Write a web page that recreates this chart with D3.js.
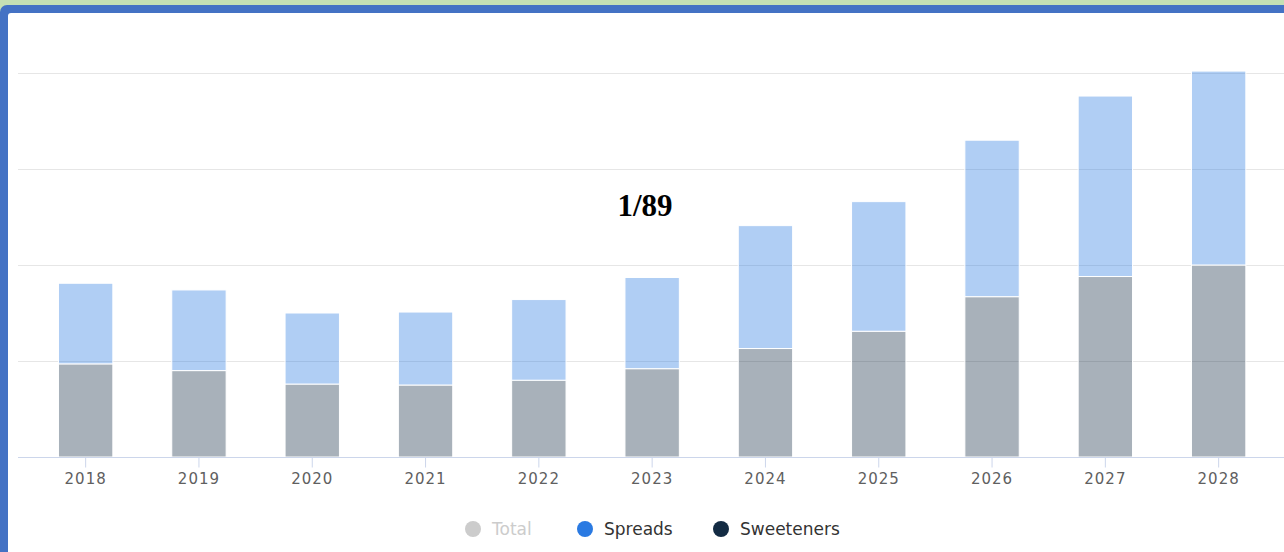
<!DOCTYPE html>
<html>
<head>
<meta charset="utf-8">
<script src="https://cdn.jsdelivr.net/npm/d3@7"></script>
<style>
  body { margin: 0; background: #fff; }
  svg { display: block; }
</style>
</head>
<body>
<svg id="chart"></svg>
<script>
// data (one grid step = 100)
var years = ["2018", "2019", "2020", "2021", "2022", "2023", "2024", "2025", "2026", "2027", "2028"];
var sweeteners = [97, 90, 76, 75, 80, 92, 113, 131, 167, 188, 200];
var spreads = [84, 84, 74, 76, 84, 95, 128, 135, 163, 188, 202];
var yTicks = [0, 100, 200, 300, 400];
var legendNames = ["Total", "Spreads", "Sweeteners"];
var legendColors = ["#cccccc", "#2a7ae2", "#132b43"];
var legendHidden = [true, false, false];

var W = 1284, H = 552;
var svg = d3.select("#chart").attr("width", W).attr("height", H);

// frame: green strip, blue border, white panel
svg.append("rect").attr("x", 0).attr("y", 0).attr("width", W).attr("height", H).attr("fill", "#c5e0b4");
svg.append("rect").attr("x", 0).attr("y", 5).attr("width", W + 20).attr("height", H + 20)
    .attr("rx", 7).attr("fill", "#4472c4");
svg.append("rect").attr("x", 8).attr("y", 13).attr("width", W).attr("height", H)
    .attr("rx", 3).attr("fill", "#ffffff");

// scales
var x = d3.scaleBand().domain(years).range([29, 1275.3]).paddingInner(0.52).paddingOuter(0.26);
var y = d3.scaleLinear().domain([0, 400]).range([457, 73]);

// grid lines
svg.append("g").selectAll("line")
    .data(yTicks.slice(1))
  .enter().append("line")
    .attr("x1", 18).attr("x2", W)
    .attr("y1", function(d) { return y(d) + 0.5; })
    .attr("y2", function(d) { return y(d) + 0.5; })
    .attr("stroke", "#e6e6e6").attr("stroke-width", 1);

// stacked bars
var rows = years.map(function(yr, i) {
  return { year: yr, Sweeteners: sweeteners[i], Spreads: spreads[i] };
});
var stack = d3.stack().keys(["Sweeteners", "Spreads"])(rows);
var barColors = { Sweeteners: "#132b43", Spreads: "#2a7ae2" };

svg.append("g").selectAll("g")
    .data(stack)
  .enter().append("g")
    .attr("fill", function(s) { return barColors[s.key]; })
    .attr("fill-opacity", 0.37)
  .selectAll("rect")
    .data(function(s) { return s; })
  .enter().append("rect")
    .attr("x", function(d) { return x(d.data.year); })
    .attr("width", x.bandwidth())
    .attr("y", function(d) { return y(d[1]); })
    .attr("height", function(d) { return y(d[0]) - y(d[1]); })
    .attr("stroke", "#ffffff").attr("stroke-width", 1);

// x axis
var xAxis = svg.append("g")
    .attr("transform", "translate(0," + 457.5 + ")")
    .call(d3.axisBottom(x).tickSize(10).tickPadding(6).tickSizeOuter(0));
xAxis.select(".domain").attr("stroke", "#ccd6eb").attr("d", "M18,0H" + W);
xAxis.selectAll(".tick line").attr("stroke", "#ccd6eb");
xAxis.selectAll(".tick text")
    .attr("fill", "#606060")
    .style("font-family", "DejaVu Sans")
    .style("font-size", "15px")
    .style("letter-spacing", "1px");

// title-like label
svg.append("text")
    .attr("x", 645).attr("y", 216)
    .attr("text-anchor", "middle")
    .style("font-family", "Liberation Serif")
    .style("font-weight", "bold")
    .style("font-size", "31px")
    .attr("fill", "#000")
    .text("1/89");

// legend
var legendX = [473, 585, 721];
var legend = svg.append("g").selectAll("g")
    .data(legendNames)
  .enter().append("g")
    .attr("transform", function(d, i) { return "translate(" + legendX[i] + ",529)"; });
legend.append("circle")
    .attr("r", 8)
    .attr("fill", function(d, i) { return legendColors[i]; });
legend.append("text")
    .attr("x", 19).attr("dy", "0.35em")
    .style("font-family", "DejaVu Sans")
    .style("font-size", "17px")
    .attr("fill", function(d, i) { return legendHidden[i] ? "#cccccc" : "#333333"; })
    .text(function(d) { return d; });
</script>
</body>
</html>
